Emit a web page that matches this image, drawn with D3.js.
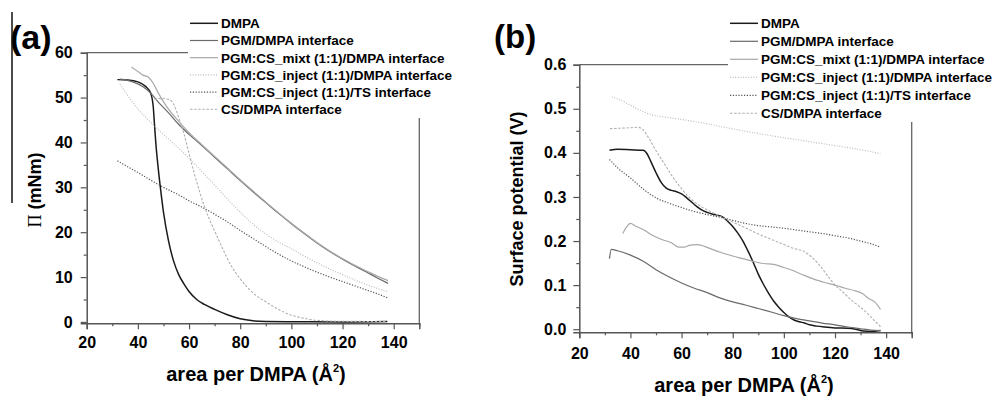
<!DOCTYPE html>
<html>
<head>
<meta charset="utf-8">
<script src="https://cdn.jsdelivr.net/npm/d3@7"></script>
<style>
  body { margin: 0; background: #fff; }
  svg { display: block; }
  text { font-family: "Liberation Sans", Arial, sans-serif; font-weight: bold; fill: #000; }
</style>
</head>
<body>
<svg id="chart" width="996" height="397"></svg>
<script>
// legend labels, same order in both panels
const seriesNames = [
  'DMPA',
  'PGM/DMPA interface',
  'PGM:CS_mixt (1:1)/DMPA interface',
  'PGM:CS_inject (1:1)/DMPA interface',
  'PGM:CS_inject (1:1)/TS interface',
  'CS/DMPA interface'
];

const xTicks = [20, 40, 60, 80, 100, 120, 140];
const xMinor = [30, 50, 70, 90, 110, 130, 150];
const piTicks = [0, 10, 20, 30, 40, 50, 60];
const piMinor = [5, 15, 25, 35, 45, 55];
const spTicks = [0, 0.1, 0.2, 0.3, 0.4, 0.5, 0.6];
const spMinor = [0.05, 0.15, 0.25, 0.35, 0.45, 0.55];

// (a) surface pressure, [area, mN/m]
const dmpaA = [[32,54],[36,53.9],[40,53.5],[43,52.5],[45,51],[46,48],[46.5,44],[47,40],[48,34],[49,29],[50,24.5],
  [52,18],[54,13.5],[56,10.5],[58,8.5],[60,6.8],[63,5],[66,3.9],[70,2.8],[75,1.6],[80,0.7],[85,0.25],[90,0.1],
  [100,0.05],[120,0],[137.5,0.1]];
const pgmA = [[33,54.1],[38,53.5],[42,52.4],[45,51],[48,49],[52,46.6],[56,44],[60,41.8],[65,39.3],[70,36.7],
  [75,34.1],[80,31.5],[85,29],[90,26.6],[95,24.2],[100,21.9],[105,19.7],[110,17.6],[115,15.7],[120,14],
  [125,12.4],[130,10.9],[134,9.7],[137.8,8.6]];
const mixtA = [[37.5,56.8],[40,55.8],[42,55],[44,54.6],[46,53.2],[48,51],[51,48.2],[55,45.3],[60,42.2],[65,39.5],
  [70,36.9],[75,34.3],[80,31.7],[85,29.2],[90,26.7],[95,24.3],[100,22],[105,19.8],[110,17.7],[115,15.8],
  [120,14.1],[125,12.6],[130,11.2],[134,10.1],[137.8,9.2]];
const injectA = [[33,53],[36,50.5],[40,47.5],[45,44.5],[50,41.8],[56,38.7],[60,36.5],[65,33.5],[70,30.5],
  [77,26.2],[85,21.8],[90,19.6],[95,17.8],[100,16.3],[105,14.7],[110,13.2],[115,11.8],[120,10.5],[125,9.3],
  [130,8.2],[134,7.4],[137.8,6.7]];
const tsA = [[32,35.9],[36,34.6],[40,33.3],[45,31.6],[50,30],[56,28.3],[60,27],[65,25.6],[70,24],[75,22.3],
  [80,20.4],[85,18.6],[90,16.8],[95,15.1],[100,13.6],[105,12.3],[110,11.1],[115,10],[120,9],[125,8],[130,7],
  [134,6.2],[137.8,5.3]];
const csA = [[46.5,49.6],[49,49.8],[52,49.6],[54,48.5],[56,45.5],[58,42],[60,37.5],[62,33.2],[64,29.3],[66,25.8],
  [68,22.8],[70,20.3],[73,16.5],[76,13],[80,9.6],[83,7.6],[86,6],[90,4.5],[95,2.8],[100,1.5],[105,0.8],
  [110,0.35],[120,0.15],[137.5,0.1]];

// (b) surface potential, [area, V]
const dmpaB = [[31.8,0.406],[35,0.408],[40,0.407],[45,0.406],[46.5,0.398],[48,0.38],[50,0.355],[52,0.333],[54,0.32],
  [56,0.315],[58,0.312],[60,0.307],[62,0.298],[64,0.288],[66,0.278],[68,0.27],[70,0.265],[73,0.26],[76,0.255],
  [78,0.245],[80,0.233],[82,0.218],[84,0.2],[86,0.177],[88,0.152],[90,0.125],[92,0.102],[94,0.082],[96,0.064],
  [98,0.05],[100,0.038],[102,0.028],[104,0.021],[106,0.017],[108,0.014],[110,0.01],[113,0.007],[116,0.005],
  [120,0.003],[125,0.002],[128,0],[131,-0.004],[134,-0.005],[137.8,-0.003]];
const pgmB = [[31.8,0.16],[32.5,0.181],[35,0.178],[40,0.168],[45,0.154],[50,0.135],[55,0.119],[60,0.105],[65,0.093],
  [70,0.083],[75,0.071],[80,0.062],[85,0.055],[90,0.047],[95,0.039],[100,0.031],[105,0.024],[110,0.019],
  [115,0.014],[120,0.01],[125,0.005],[130,0.001],[134,-0.002],[137.8,-0.003]];
const mixtB = [[37,0.217],[38.5,0.232],[40,0.24],[42,0.234],[45,0.226],[48,0.215],[52,0.204],[56,0.196],[59,0.186],
  [61,0.186],[63,0.19],[66,0.192],[69,0.188],[72,0.181],[76,0.173],[80,0.166],[84,0.16],[88,0.154],[92,0.149],
  [96,0.147],[100,0.14],[104,0.132],[108,0.122],[112,0.113],[116,0.106],[120,0.1],[124,0.093],[128,0.087],
  [131,0.08],[133,0.07],[135.5,0.062],[137.8,0.045]];
const injectB = [[32.7,0.527],[36,0.52],[40,0.508],[44,0.496],[48,0.487],[55,0.48],[62,0.474],[70,0.466],[77,0.458],
  [85,0.449],[95,0.439],[105,0.43],[115,0.421],[125,0.412],[132,0.405],[137.8,0.398]];
const tsB = [[31.8,0.385],[35,0.366],[40,0.343],[45,0.318],[50,0.298],[55,0.286],[60,0.276],[65,0.267],[70,0.26],
  [75,0.254],[80,0.247],[85,0.24],[90,0.235],[95,0.232],[100,0.229],[105,0.225],[110,0.221],[115,0.217],
  [120,0.212],[125,0.207],[130,0.2],[134,0.194],[137.8,0.186]];
const csB = [[32,0.455],[36,0.456],[40,0.457],[43,0.458],[45,0.452],[47,0.435],[50,0.405],[53,0.378],[56,0.35],
  [59,0.326],[62,0.305],[65,0.289],[68,0.277],[72,0.265],[76,0.253],[80,0.243],[85,0.23],[90,0.216],[95,0.204],
  [100,0.192],[104,0.183],[108,0.176],[111,0.163],[114,0.145],[117,0.122],[120,0.1],[123,0.085],[126,0.068],
  [129,0.054],[132,0.04],[135,0.022],[137.8,0.006]];

// line looks, one per series
const styles = [
  { color: '#1a1a1a', width: 1.5, dash: null },
  { color: '#6a6a6a', width: 1.2, dash: null },
  { color: '#a8a8a8', width: 1.2, dash: null },
  { color: '#bcbcbc', width: 1.2, dash: '1,1.6' },
  { color: '#555555', width: 1.2, dash: '1.2,1.6' },
  { color: '#b0b0b0', width: 1.1, dash: '2.5,1.6' }
];

const svg = d3.select('#chart');

function drawPanel(p) {
  const x = d3.scaleLinear().domain([20, 150]).range([p.left, p.right]);
  const y = d3.scaleLinear().domain(p.yDomain).range([p.bottom, p.top]);
  const g = svg.append('g');

  // frame (top/right), the legend box hides part of it
  g.append('path')
    .attr('d', `M${p.left},${p.top}H${p.right}V${p.bottom}`)
    .attr('fill', 'none').attr('stroke', '#666').attr('stroke-width', 1.3);

  const line = d3.line().x(d => x(d[0])).y(d => y(d[1])).curve(d3.curveMonotoneX);
  p.series.forEach((s, i) => {
    g.append('path')
      .datum(s)
      .attr('d', line)
      .attr('fill', 'none')
      .attr('stroke', styles[i].color)
      .attr('stroke-width', styles[i].width)
      .attr('stroke-dasharray', styles[i].dash);
  });

  // axes
  g.append('g').attr('transform', `translate(0,${p.bottom})`)
    .call(d3.axisBottom(x).tickValues(xTicks).tickSize(6).tickPadding(p.xPad).tickFormat(d3.format('d')));
  g.append('g').attr('transform', `translate(0,${p.bottom})`)
    .call(d3.axisBottom(x).tickValues(xMinor).tickSize(3).tickFormat(''))
    .select('.domain').remove();
  g.append('g').attr('transform', `translate(${p.left},0)`)
    .call(d3.axisLeft(y).tickValues(p.yTicks).tickSize(6).tickPadding(p.yPad).tickFormat(p.yFormat));
  g.append('g').attr('transform', `translate(${p.left},0)`)
    .call(d3.axisLeft(y).tickValues(p.yMinor).tickSize(3).tickFormat(''))
    .select('.domain').remove();

  g.selectAll('.domain').attr('stroke', '#555').attr('stroke-width', 1.5);
  g.selectAll('.tick line').attr('stroke', '#555').attr('stroke-width', 1.2);
  g.selectAll('.tick text').attr('font-size', 16).attr('font-family', null).attr('fill', '#000');

  // axis titles
  const xt = g.append('text').attr('x', p.xTitleX).attr('y', p.xTitleY)
    .attr('text-anchor', 'middle').attr('font-size', 20);
  xt.append('tspan').text('area per DMPA (Å');
  xt.append('tspan').attr('font-size', 11).attr('dy', -9).text('2');
  xt.append('tspan').attr('dy', 9).text(')');

  const yt = g.append('text')
    .attr('transform', `translate(${p.yTitleX},${p.yTitleY}) rotate(-90)`)
    .attr('text-anchor', 'middle').attr('font-size', 18);
  p.yTitle.forEach(t => {
    const ts = yt.append('tspan').text(t.text);
    if (t.serif) ts.attr('font-family', '"Liberation Serif", "Times New Roman", serif').attr('font-weight', 'normal');
  });

  // panel label
  g.append('text').attr('x', p.labelX).attr('y', p.labelY)
    .attr('font-size', p.labelSize).text(p.label);

  // legend
  g.append('rect').attr('x', p.legX - 2).attr('y', 0)
    .attr('width', 996 - p.legX).attr('height', p.legBottom).attr('fill', '#fff');
  p.series.forEach((s, i) => {
    const ly = p.legY + i * p.legDy;
    g.append('line')
      .attr('x1', p.legX).attr('x2', p.legX + 28).attr('y1', ly).attr('y2', ly)
      .attr('stroke', styles[i].color).attr('stroke-width', styles[i].width)
      .attr('stroke-dasharray', styles[i].dash);
    g.append('text').attr('x', p.legX + 31).attr('y', ly).attr('dy', '0.36em')
      .attr('font-size', 13.5).text(seriesNames[i]);
  });
}

drawPanel({
  left: 86.7, right: 419.3, top: 52.7, bottom: 323.3,
  yDomain: [-0.3, 60], yTicks: piTicks, yMinor: piMinor, yFormat: d3.format('d'),
  xPad: 7, yPad: 8,
  series: [dmpaA, pgmA, mixtA, injectA, tsA, csA],
  xTitleX: 256, xTitleY: 381,
  yTitleX: 41, yTitleY: 190,
  yTitle: [{ text: 'Π', serif: true }, { text: ' (mNm)' }],
  label: '(a)', labelX: 10, labelY: 49, labelSize: 34,
  legX: 190, legY: 23.3, legDy: 17.2, legBottom: 118
});

drawPanel({
  left: 579.3, right: 911.7, top: 64.7, bottom: 332.3,
  yDomain: [-0.007, 0.6], yTicks: spTicks, yMinor: spMinor, yFormat: d3.format('.1f'),
  xPad: 9, yPad: 7,
  series: [dmpaB, pgmB, mixtB, injectB, tsB, csB],
  xTitleX: 744, xTitleY: 392,
  yTitleX: 523, yTitleY: 199,
  yTitle: [{ text: 'Surface potential (V)' }],
  label: '(b)', labelX: 494, labelY: 48, labelSize: 33,
  legX: 730, legY: 23.3, legDy: 18, legBottom: 122
});

// stray scan mark at the far left of the figure
svg.append('line').attr('x1', 12).attr('x2', 12).attr('y1', 12).attr('y2', 203)
  .attr('stroke', '#111').attr('stroke-width', 1.5);
</script>
</body>
</html>
